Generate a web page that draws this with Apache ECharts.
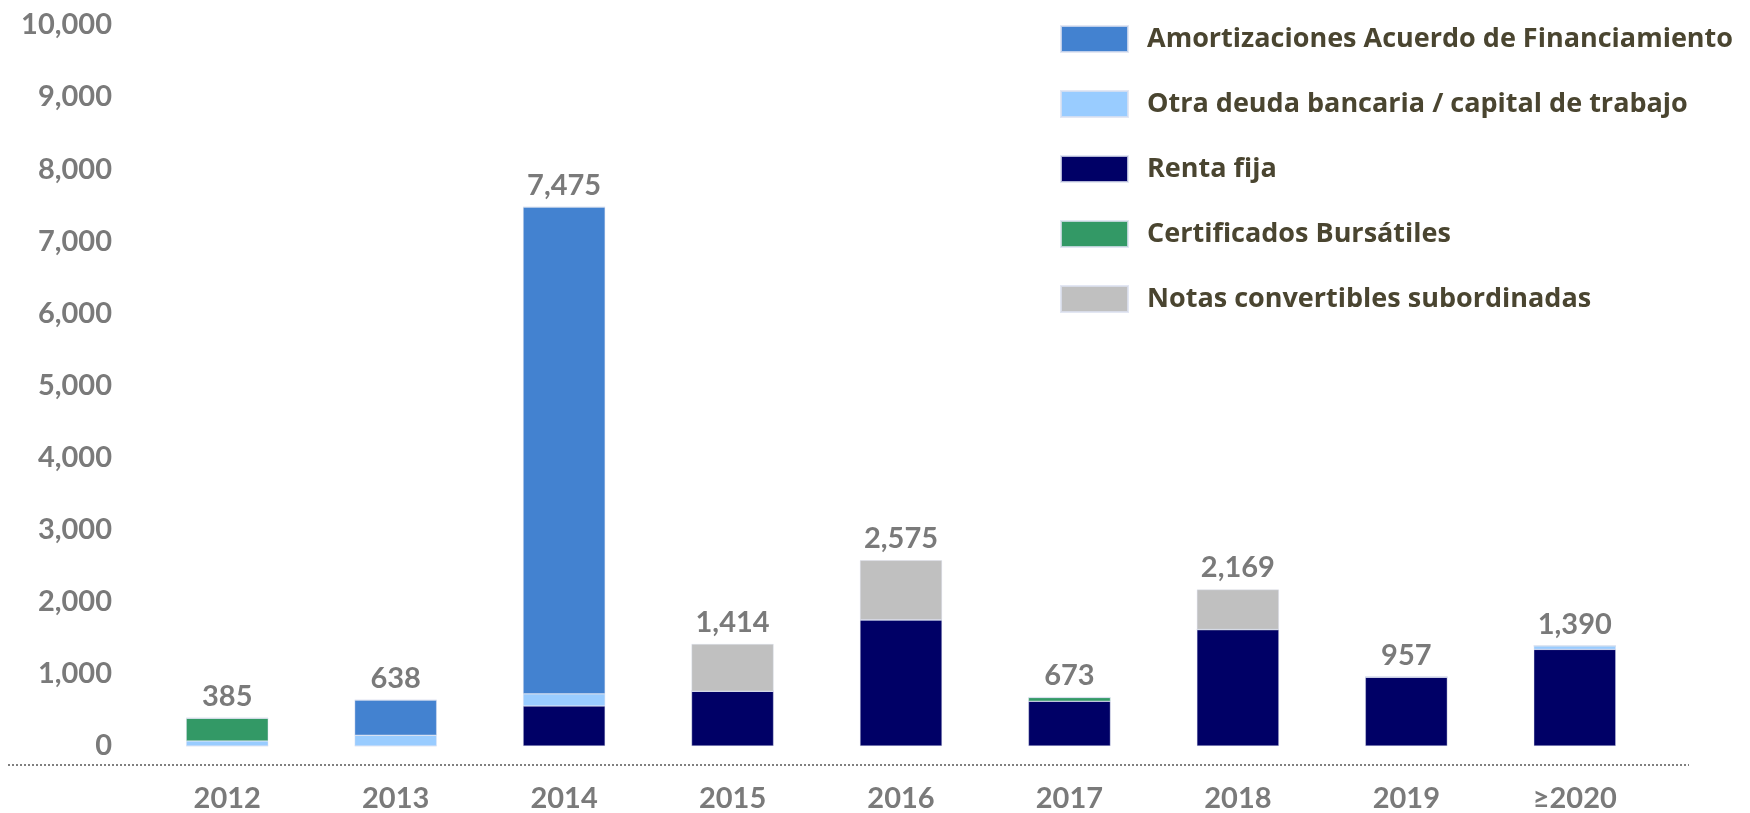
<!DOCTYPE html>
<html>
<head>
<meta charset="utf-8">
<script src="https://cdn.jsdelivr.net/npm/echarts@6/dist/echarts.min.js"></script>
<style>
	html,body{margin:0;padding:0;background:#fff;}
	#chartArea{width:1750px;height:813px;}
</style>
</head>
<body>
<div id="chartArea"></div>
<script>
	// 数据
	const categories = ['2012','2013','2014','2015','2016','2017','2018','2019','≥2020']
	const rentaFija = [0, 0, 555, 760, 1750, 622, 1615, 957, 1340]
	const otraDeuda = [70, 150, 168, 0, 0, 0, 0, 0, 50]
	const certificados = [315, 0, 0, 0, 0, 51, 0, 0, 0]
	const amortizaciones = [0, 488, 6752, 0, 0, 0, 0, 0, 0]
	const notas = [0, 0, 0, 654, 825, 0, 554, 0, 0]
	const totals = [385, 638, 7475, 1414, 2575, 673, 2169, 957, 1390]
	const yTicks = [0, 1000, 2000, 3000, 4000, 5000, 6000, 7000, 8000, 9000, 10000]

	const fontFamily = 'Lato, "Open Sans", sans-serif'
	const grayText = '#7a7a7a'
	const fmt = function(v){ return Number(v).toLocaleString('en-US') }

	const barSeries = function(name, data, color){
		return {
			name: name,
			type: 'bar',
			stack: 'deuda',
			barWidth: 82,
			data: data,
			itemStyle: {color: color, borderColor: 'rgba(220,225,240,0.8)', borderWidth: 0.5},
		}
	}

	const myChart = echarts.init(document.getElementById('chartArea'))
	const chartOption = {
		backgroundColor: '#fff',
		animation: false,
		grid: {
			left: 143,
			right: 91,
			top: 25,
			bottom: 67
		},
		legend: {
			orient: 'vertical',
			left: 1055,
			top: 20,
			itemWidth: 67,
			itemHeight: 26,
			itemGap: 37,
			icon: 'rect',
			textStyle: {fontFamily: '"Open Sans", sans-serif', fontWeight: 'bold', fontSize: 27, color: '#4a4530', padding: [0,0,0,14]},
			data: ['Amortizaciones Acuerdo de Financiamiento','Otra deuda bancaria / capital de trabajo','Renta fija','Certificados Bursátiles','Notas convertibles subordinadas']
		},
		xAxis: [{
			type: 'category',
			data: categories,
			axisLine: {show: false},
			axisTick: {show: false},
			axisLabel: {
				margin: 38,
				fontFamily: fontFamily,
				fontWeight: 'bold',
				fontSize: 29,
				color: grayText
			}
		}],
		yAxis: [{
			type: 'value',
			min: yTicks[0],
			max: yTicks[yTicks.length-1],
			interval: 1000,
			splitLine: {show: false},
			axisLine: {show: false},
			axisTick: {show: false},
			axisLabel: {
				margin: 31,
				fontFamily: fontFamily,
				fontWeight: 'bold',
				fontSize: 29,
				color: grayText,
				formatter: function(value){ return fmt(value) }
			}
		}],
		// 底部虚线
		graphic: [{
			type: 'line',
			shape: {x1: 8, y1: 765, x2: 1689, y2: 765},
			style: {stroke: '#808080', lineWidth: 2, lineDash: [2, 2]}
		}],
		series: [
			barSeries('Renta fija', rentaFija, '#000066'),
			barSeries('Otra deuda bancaria / capital de trabajo', otraDeuda, '#99ccff'),
			barSeries('Certificados Bursátiles', certificados, '#339966'),
			barSeries('Amortizaciones Acuerdo de Financiamiento', amortizaciones, '#4382d0'),
			barSeries('Notas convertibles subordinadas', notas, '#c0c0c0'),
			{
				name: 'total',
				type: 'bar',
				stack: 'deuda',
				barWidth: 82,
				data: totals.map(function(){ return 0 }),
				itemStyle: {color: 'rgba(0,0,0,0)'},
				label: {
					show: true,
					position: 'top',
					distance: 7,
					fontFamily: fontFamily,
					fontWeight: 'bold',
					fontSize: 29,
					color: grayText,
					formatter: function(p){ return fmt(totals[p.dataIndex]) }
				}
			}
		]
	}
	myChart.setOption(chartOption)
</script>
</body>
</html>
